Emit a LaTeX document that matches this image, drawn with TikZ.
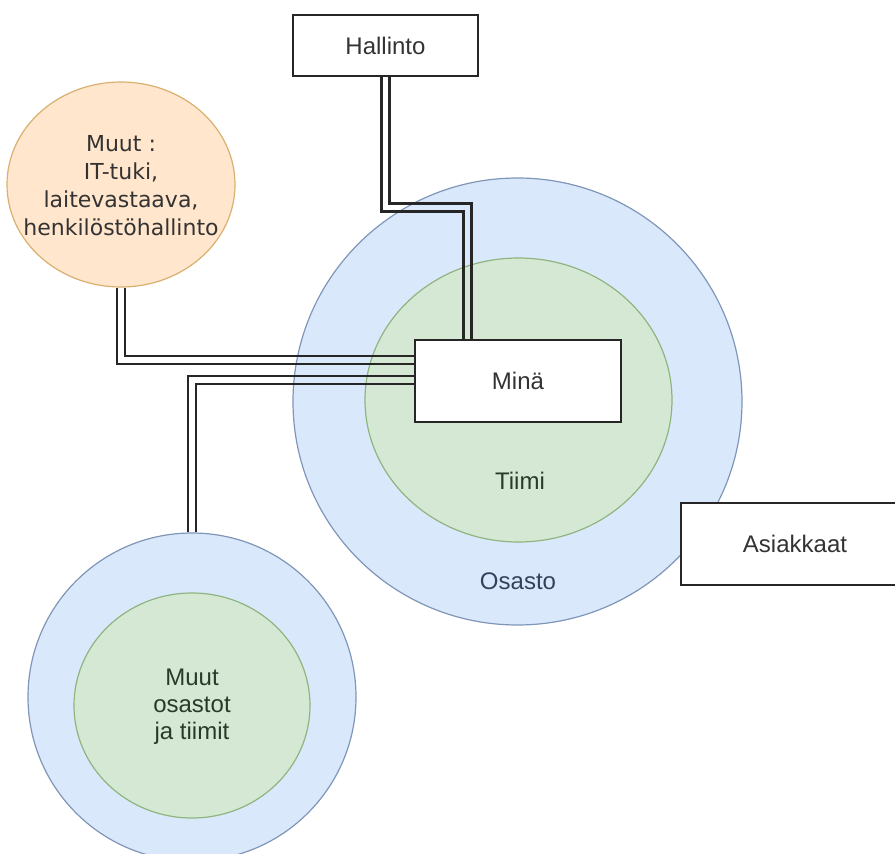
\documentclass[tikz,border=0pt]{standalone}
\usepackage{fontspec}
\setmainfont{Liberation Sans}
\newfontfamily\verdanalike{DejaVu Sans}
\usetikzlibrary{calc,shapes.geometric}
\definecolor{bluefill}{HTML}{DAE8FC}
\definecolor{bluedraw}{HTML}{7F96B8}
\definecolor{greenfill}{HTML}{D5E8D4}
\definecolor{greendraw}{HTML}{8FB57F}
\definecolor{orangefill}{HTML}{FFE6CC}
\definecolor{orangedraw}{HTML}{D9B070}
\definecolor{txt}{HTML}{333333}
\definecolor{osastotxt}{HTML}{34415A}
\definecolor{tiimitxt}{HTML}{2A3A2A}
\tikzset{
  bluecirc/.style={ellipse, draw=bluedraw, fill=bluefill, line width=1.2pt, inner sep=0pt},
  greencirc/.style={ellipse, draw=greendraw, fill=greenfill, line width=1.2pt, inner sep=0pt},
  orangecirc/.style={ellipse, draw=orangedraw, fill=orangefill, line width=1.2pt, inner sep=0pt},
  boxnode/.style={rectangle, draw=black!85, fill=white, line width=2.2pt, inner sep=0pt,
    font=\fontsize{24}{28}\selectfont, text=txt},
  txtlabel/.style={font=\fontsize{24}{27}\selectfont, text=txt, inner sep=0pt},
  wire/.style={draw=black!85, line width=2.4pt},
}
\begin{document}
\begin{tikzpicture}[x=1pt,y=-1pt]
\useasboundingbox (0,0) rectangle (895,854);
\clip (0,0) rectangle (895,854);
% circles
\node[bluecirc, minimum width=449pt, minimum height=447pt] (osasto) at (517.5,401.5) {};
\node[greencirc, minimum width=307pt, minimum height=284pt] (tiimi) at (518.5,400) {};
\node[txtlabel, text=osastotxt] (osastolbl) at (518,581) {Osasto};
\node[txtlabel, text=tiimitxt] (tiimilbl) at (520,481) {Tiimi};
\node[orangecirc, minimum width=228pt, minimum height=205pt] (muut) at (121,184.5) {};
\node[font=\verdanalike\fontsize{22}{28}\selectfont, align=center, text=txt, inner sep=0pt]
  (muutlbl) at (121,186) {Muut :\\IT-tuki,\\laitevastaava,\\henkilöstöhallinto};
\node[bluecirc, minimum width=328pt, minimum height=328pt] (muutos) at (192,697) {};
\node[greencirc, minimum width=236pt, minimum height=225pt] (muutosg) at (192,705.5) {};
\node[txtlabel, align=center, text=tiimitxt] (muutoslbl) at (192,707) {Muut\\osastot\\ja tiimit};
% boxes
\node[boxnode, minimum width=206pt, minimum height=82pt] (mina) at (518,381) {Minä};
\node[boxnode, minimum width=185pt, minimum height=61pt] (hallinto) at (385.5,45.5) {Hallinto};
\node[boxnode, minimum width=228pt, minimum height=82pt] (asiakkaat) at (795,544) {Asiakkaat};
% bend coordinates
\coordinate (bA) at (121.5,360);
\coordinate (bB) at (192,380);
\coordinate (bC) at (467.5,207.5);
% wires: Muut -> Minä
\draw[wire] ($(muut.south)+(-4,0)$) |- ($(mina.west|-bA)+(0,4)$);
\draw[wire] ($(muut.south)+(4,0)$) |- ($(mina.west|-bA)+(0,-4)$);
% wires: Muut osastot -> Minä
\draw[wire] ($(muutos.north)+(-4,0)$) |- ($(mina.west|-bB)+(0,-4)$);
\draw[wire] ($(muutos.north)+(4,0)$) |- ($(mina.west|-bB)+(0,4)$);
% wires: Hallinto -> Minä
\draw[wire] ($(hallinto.south)+(-4,0)$) |- ($(bC)+(-4,4)$) -- ($(mina.north-|bC)+(-4,0)$);
\draw[wire] ($(hallinto.south)+(4,0)$) |- ($(bC)+(4,-4)$) -- ($(mina.north-|bC)+(4,0)$);
\end{tikzpicture}
\end{document}
